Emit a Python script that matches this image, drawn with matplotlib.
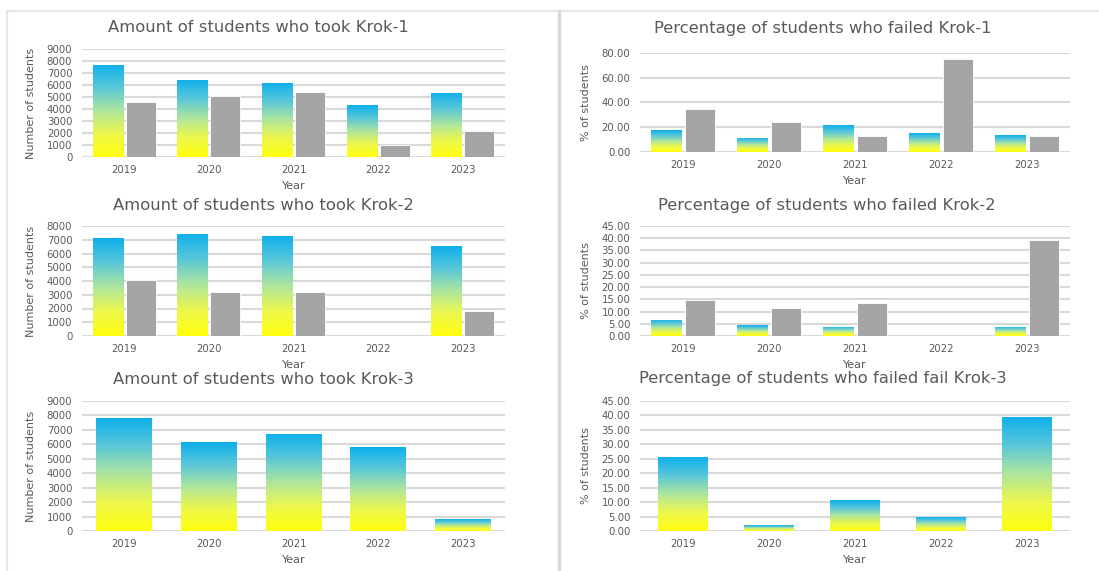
import numpy as np
import matplotlib
matplotlib.use("Agg")
import matplotlib.pyplot as plt
from matplotlib.colors import LinearSegmentedColormap
from matplotlib.lines import Line2D

# data
years = ["2019", "2020", "2021", "2022", "2023"]

krok1_took_a = [7700, 6450, 6200, 4300, 5350]
krok1_took_b = [4600, 5050, 5400, 1000, 2200]
krok2_took_a = [7100, 7450, 7280, 0, 6520]
krok2_took_b = [4060, 3200, 3170, 0, 1830]
krok3_took = [7850, 6150, 6750, 5800, 800]

krok1_fail_a = [17.5, 11.6, 21.8, 15.1, 13.5]
krok1_fail_b = [35.0, 24.0, 13.2, 75.2, 12.9]
krok2_fail_a = [6.7, 4.4, 3.7, 0, 3.7]
krok2_fail_b = [14.9, 11.6, 13.6, 0, 39.1]
krok3_fail = [25.6, 2.0, 10.6, 4.7, 39.6]

W, H = 1099, 571
fig = plt.figure(figsize=(W / 100, H / 100), dpi=100)
fig.patch.set_facecolor("white")

TXT = "#595959"
GRID = "#D9D9D9"
GRAY = "#A5A5A5"
grad = LinearSegmentedColormap.from_list(
    "ua", [(0.0, (1.0, 1.0, 0.05)), (0.25, (0.93, 0.97, 0.30)),
           (0.5, (0.68, 0.90, 0.62)), (0.75, (0.35, 0.78, 0.85)),
           (1.0, (0.05, 0.69, 0.93))])
narrow = ["Liberation Sans Narrow", "DejaVu Sans"]


def px_axes(x0, x1, y0, y1):
    return fig.add_axes([x0 / W, 1 - y1 / H, (x1 - x0) / W, (y1 - y0) / H])


def gradient_bars(ax, x, vals, width):
    bars = ax.bar(x, vals, width, color="none", edgecolor="none", zorder=2)
    g = np.linspace(0, 1, 256).reshape(-1, 1)
    for b in bars:
        h = b.get_height()
        if h <= 0:
            continue
        x0 = b.get_x()
        im = ax.imshow(g, cmap=grad, origin="lower", aspect="auto",
                       extent=(x0, x0 + b.get_width(), 0, h), zorder=2)
        im.set_clip_path(b)


def chart(box, title, tx, ty, a, b, ymax, step, ylabel, fmt, width, ylab_x):
    ax = px_axes(*box)
    x = np.arange(len(years))
    if b is not None:
        gradient_bars(ax, x - 0.195, a, 0.355)
        ax.bar(x + 0.195, b, 0.355, color=GRAY, edgecolor="white", lw=0.6, zorder=2)
    else:
        gradient_bars(ax, x, a, width)
    ax.set_xlim(-0.5, len(years) - 0.5)
    ax.set_ylim(0, ymax)
    ax.set_yticks(np.arange(0, ymax + step / 2, step))
    ax.yaxis.set_major_formatter(plt.FuncFormatter(lambda v, p: fmt.format(v)))
    ax.set_xticks(x)
    ax.set_xticklabels(years)
    ax.set_axisbelow(True)
    ax.yaxis.grid(True, color=GRID, lw=1.5)
    for s in ax.spines.values():
        s.set_visible(False)
    ax.tick_params(length=0, labelsize=7.3, labelcolor=TXT)
    ax.tick_params(axis="x", pad=6)
    ax.tick_params(axis="y", pad=7)
    ax.set_xlabel("Year", fontsize=8, color=TXT, labelpad=4)
    ax.set_ylabel(ylabel, fontsize=8, color=TXT, family=narrow)
    ax.yaxis.set_label_coords((ylab_x - box[0]) / (box[1] - box[0]), 0.5)
    fig.text(tx / W, 1 - ty / H, title, ha="center", va="center",
             fontsize=11.8, color=TXT)
    return ax


chart((82, 505, 49, 157), "Amount of students who took Krok-1", 258, 27,
      krok1_took_a, krok1_took_b, 9000, 1000, "Number of students", "{:.0f}", 0.355, 36)
chart((82, 505, 226, 336), "Amount of students who took Krok-2", 263, 205,
      krok2_took_a, krok2_took_b, 8000, 1000, "Number of students", "{:.0f}", 0.355, 36)
chart((82, 505, 401, 531), "Amount of students who took Krok-3", 263, 379,
      krok3_took, None, 9000, 1000, "Number of students", "{:.0f}", 0.66, 36)

chart((640, 1070, 53, 152), "Percentage of students who failed Krok-1", 823, 28,
      krok1_fail_a, krok1_fail_b, 80, 20, "% of students", "{:.2f}", 0.35, 591)
chart((640, 1070, 226, 336), "Percentage of students who failed Krok-2", 827, 205,
      krok2_fail_a, krok2_fail_b, 45, 5, "% of students", "{:.2f}", 0.35, 591)
chart((640, 1070, 401, 531), "Percentage of students who failed fail Krok-3", 823, 379,
      krok3_fail, None, 45, 5, "% of students", "{:.2f}", 0.57, 591)

# panel frames
fig.add_artist(Line2D([7 / W, 1], [1 - 11 / H] * 2, color="#E6E6E6", lw=1.5, transform=fig.transFigure))
fig.add_artist(Line2D([7 / W] * 2, [0, 1 - 11 / H], color="#E6E6E6", lw=1.5, transform=fig.transFigure))
fig.add_artist(Line2D([558.5 / W] * 2, [0, 1 - 11 / H], color="#D9D9D9", lw=2.5, transform=fig.transFigure))

fig.savefig("out.png", dpi=100)
